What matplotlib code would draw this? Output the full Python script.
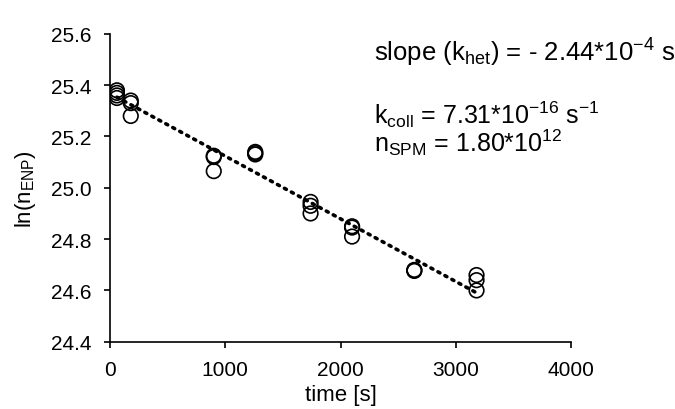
import numpy as np
import matplotlib
matplotlib.use("Agg")
import matplotlib.pyplot as plt

plt.rcParams['font.family'] = ['Liberation Sans', 'DejaVu Sans']
plt.rcParams['mathtext.fontset'] = 'custom'
plt.rcParams['mathtext.rm'] = 'Liberation Sans'
plt.rcParams['mathtext.it'] = 'Liberation Sans'
plt.rcParams['mathtext.default'] = 'rm'

time_s = [60, 60, 60, 60, 180, 180, 180,
          900, 900, 900, 1260, 1260, 1260,
          1740, 1740, 1740, 2100, 2100, 2100,
          2640, 2640, 2640, 3180, 3180, 3180]
ln_n = [25.38, 25.37, 25.36, 25.35, 25.34, 25.33, 25.28,
        25.125, 25.12, 25.065, 25.14, 25.135, 25.13,
        24.945, 24.93, 24.90, 24.85, 24.845, 24.81,
        24.68, 24.678, 24.676, 24.66, 24.64, 24.60]

x_ticks = [0, 1000, 2000, 3000, 4000]
y_ticks = [24.4, 24.6, 24.8, 25.0, 25.2, 25.4, 25.6]

fig = plt.figure(figsize=(6.75, 4.10), dpi=100)
ax = fig.add_axes([0.163, 0.164, 0.683, 0.751])

ax.scatter(time_s, ln_n, s=110, facecolors='none', edgecolors='black', linewidths=1.2, zorder=3)

t = np.array(time_s, dtype=float)
y = np.array(ln_n)
m, b = np.polyfit(t, y, 1)
xl = np.array([t.min(), t.max()])
ax.plot(xl, m * xl + b, color='black', linestyle=(0, (0.6, 1.6)), linewidth=2.6,
        dash_capstyle='round', zorder=2)

ax.set_xlim(0, 4000)
ax.set_ylim(24.4, 25.6)
ax.set_xticks(x_ticks)
ax.set_xticklabels([str(v) for v in x_ticks])
ax.set_yticks(y_ticks)
ax.set_yticklabels([f"{v:.1f}" for v in y_ticks])
ax.tick_params(direction='out', length=4, width=1.2, labelsize=15, colors='black')
ax.tick_params(axis='y', pad=9.5)
ax.tick_params(axis='x', pad=9)
for s in ['top', 'right']:
    ax.spines[s].set_visible(False)
for s in ['left', 'bottom']:
    ax.spines[s].set_linewidth(1.2)

ax.set_xlabel('time [s]', fontsize=16, labelpad=4)
ax.set_ylabel(r'ln(n$_{\mathrm{ENP}}$)', fontsize=16, labelpad=9)

fig.text(0.554, 0.849, r'slope (k$_{\mathrm{het}}$) = - 2.44*10$^{\mathrm{-4}}$ s$^{\mathrm{-1}}$',
         fontsize=18.5, va='baseline', ha='left')
fig.text(0.554, 0.699, r'k$_{\mathrm{coll}}$ = 7.31*10$^{\mathrm{-16}}$ s$^{\mathrm{-1}}$',
         fontsize=18, va='baseline', ha='left')
fig.text(0.554, 0.630, r'n$_{\mathrm{SPM}}$ = 1.80*10$^{\mathrm{12}}$',
         fontsize=18, va='baseline', ha='left')

fig.savefig('out.png', dpi=100)
